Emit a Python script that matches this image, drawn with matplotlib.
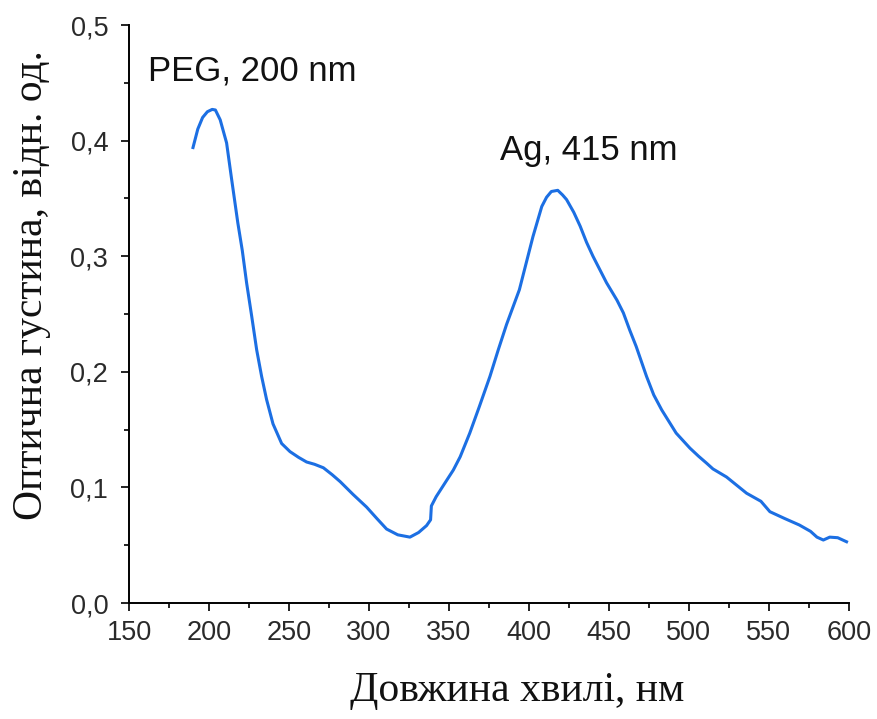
import matplotlib
matplotlib.use("Agg")
import matplotlib.pyplot as plt
from matplotlib.ticker import MultipleLocator, FuncFormatter

# UV-Vis absorption spectrum of Ag nanoparticles in PEG
wavelength_nm = [
    190, 193, 196, 199, 202, 204, 207, 211, 214, 218,
    220.8, 223.5, 226.7, 229.8, 232.9, 236, 240, 245.4, 250.6, 256,
    261, 266, 271.5, 277, 282, 290, 298.5, 305, 311, 318,
    325.6, 331, 336, 338.5, 339, 342, 348.5, 352.7, 357, 363,
    369, 375.6, 380.8, 386, 394, 402.5, 408, 411, 414, 418,
    421, 423.5, 428, 432, 436, 440, 448.5, 455, 459, 463,
    467, 473.5, 478, 483, 492, 500.6, 506, 511, 515, 523.5,
    536, 545, 550.6, 560, 569, 576, 580, 584, 588, 593, 598.5,
]
optical_density = [
    0.394, 0.410, 0.420, 0.425, 0.427, 0.4265, 0.418, 0.398, 0.368, 0.329,
    0.305, 0.277, 0.248, 0.219, 0.196, 0.176, 0.155, 0.138, 0.131, 0.126,
    0.122, 0.120, 0.117, 0.111, 0.105, 0.094, 0.083, 0.073, 0.064, 0.059,
    0.057, 0.061, 0.067, 0.072, 0.084, 0.092, 0.106, 0.115, 0.1265, 0.147,
    0.170, 0.196, 0.219, 0.241, 0.271, 0.317, 0.343, 0.351, 0.356, 0.357,
    0.353, 0.349, 0.338, 0.326, 0.312, 0.300, 0.277, 0.262, 0.251, 0.236,
    0.222, 0.196, 0.180, 0.167, 0.147, 0.134, 0.127, 0.121, 0.116, 0.109,
    0.095, 0.088, 0.079, 0.073, 0.0675, 0.062, 0.057, 0.0545, 0.057, 0.0565, 0.053,
]

peak_labels = ["PEG, 200 nm", "Ag, 415 nm"]
peak_label_pos = [(162, 0.452), (382, 0.383)]

x_label = "Довжина хвилі, нм"
y_label = "Оптична густина, відн. од."

fig = plt.figure(figsize=(8.77, 7.19), dpi=100)
ax = fig.add_axes([0.1471, 0.1613, 0.968 - 0.1471, 0.9652 - 0.1613])

ax.plot(wavelength_nm, optical_density, color="#1c6fe3", lw=2.2,
        solid_joinstyle="round")

ax.set_xlim(150, 600)
ax.set_ylim(0, 0.5)
ax.xaxis.set_major_locator(MultipleLocator(50))
ax.xaxis.set_minor_locator(MultipleLocator(25))
ax.yaxis.set_major_locator(MultipleLocator(0.1))
ax.yaxis.set_minor_locator(MultipleLocator(0.05))
ax.yaxis.set_major_formatter(FuncFormatter(lambda v, p: f"{v:.1f}".replace(".", ",")))

for side in ("top", "right"):
    ax.spines[side].set_visible(False)
for side in ("left", "bottom"):
    ax.spines[side].set_linewidth(1.4)

ax.tick_params(which="major", direction="out", length=6, width=1.4,
               colors="#222222", labelsize=19.5)
ax.tick_params(axis="x", which="major", pad=6)
ax.tick_params(axis="y", which="major", pad=9)
ax.tick_params(which="minor", direction="out", length=3.6, width=1.4, colors="#222222")
for lab in ax.get_xticklabels() + ax.get_yticklabels():
    lab.set_fontfamily("Liberation Sans")
    lab.set_color("#2a2a2a")

for text, (tx, ty) in zip(peak_labels, peak_label_pos):
    ax.text(tx, ty, text, fontsize=25, family="Liberation Sans",
            color="#111111", ha="left", va="baseline")

fig.text(0.59, 0.012, x_label, fontsize=30, family="Liberation Serif",
         ha="center", va="bottom", color="#111111")
fig.text(0.036, 0.603, y_label, fontsize=30, family="Liberation Serif",
         ha="center", va="center", rotation=90, color="#111111")

fig.savefig("out.png", dpi=100)
